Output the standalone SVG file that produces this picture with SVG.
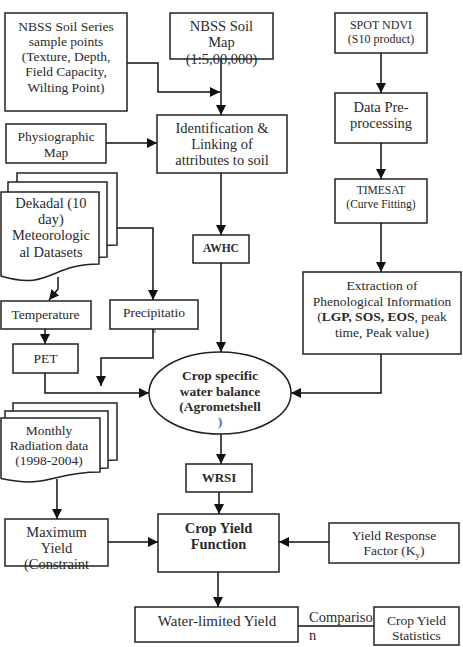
<svg xmlns="http://www.w3.org/2000/svg" width="463" height="647" viewBox="0 0 463 647">
<style>
.box{fill:#fff;stroke:#222;stroke-width:1.5}
.t{font-family:"Liberation Serif","Times New Roman",serif;fill:#2a2a2a;text-anchor:middle}
.b{font-weight:bold}
.conn{fill:none;stroke:#111;stroke-width:1.5;marker-end:url(#arr)}
.line{fill:none;stroke:#111;stroke-width:1.5}
</style>
<defs>
<marker id="arr" viewBox="0 0 10 10" refX="10" refY="5" markerWidth="10" markerHeight="10" markerUnits="userSpaceOnUse" orient="auto">
<path d="M0,0 L10,5 L0,10 Z" fill="#111"/>
</marker>
</defs>
<rect width="463" height="647" fill="#fff"/>

<g id="connectors">
<path class="conn" d="M127,63 H158 V92 H220"/>
<path class="conn" d="M221,59 V115"/>
<path class="conn" d="M106,143 H157"/>
<path class="conn" d="M221,173 V235"/>
<path class="conn" d="M221,263 V352"/>
<path class="conn" d="M117,228 H153 V300"/>
<path class="conn" d="M58,277 V289 L49,300"/>
<path class="conn" d="M45,329 V344"/>
<path class="conn" d="M45,373 V393 H149"/>
<path class="conn" d="M153,329 V358 H101 V386"/>
<path class="conn" d="M381,53 V93"/>
<path class="conn" d="M381,143 V179"/>
<path class="conn" d="M381,223 V272"/>
<path class="conn" d="M381,354 V393 H291"/>
<path class="conn" d="M221,434 V464"/>
<path class="conn" d="M219,492 V514"/>
<path class="conn" d="M57,479 V519"/>
<path class="conn" d="M108,542 H158"/>
<path class="conn" d="M329,542 H279"/>
<path class="conn" d="M218,572 V607"/>
<path class="line" d="M298,626 H374"/>
</g>

<g id="nbss-series">
<rect class="box" x="5" y="13" width="122" height="98"/>
<text class="t" font-size="13.5"><tspan x="66" y="31">NBSS Soil Series</tspan><tspan x="66" y="46">sample points</tspan><tspan x="66" y="61">(Texture, Depth,</tspan><tspan x="66" y="76">Field Capacity,</tspan><tspan x="66" y="91.5">Wilting Point)</tspan></text>
</g>

<g id="nbss-map">
<rect class="box" x="170" y="13" width="103" height="46"/>
<text class="t" font-size="14.5"><tspan x="221.5" y="31">NBSS Soil</tspan><tspan x="221.5" y="47">Map</tspan><tspan x="221.5" y="64">(1:5,00,000)</tspan></text>
</g>

<g id="identification">
<rect class="box" x="157" y="115" width="130" height="58"/>
<text class="t" font-size="14.5"><tspan x="222" y="133">Identification &amp;</tspan><tspan x="222" y="149">Linking of</tspan><tspan x="222" y="165">attributes to soil</tspan></text>
</g>

<g id="physiographic">
<rect class="box" x="6" y="124" width="100" height="39"/>
<text class="t" font-size="13.5"><tspan x="56" y="141">Physiographic</tspan><tspan x="56" y="157">Map</tspan></text>
</g>

<g id="dekadal">
<path class="box" d="M17,173 H117 V245 C67,245 67,272 17,257 Z"/>
<path class="box" d="M8,182 H107 V257 C57.5,257 57.5,285.5 8,269 Z"/>
<path class="box" d="M1,192 H99 V264 C50,264 50,291 1,276 Z"/>
<text class="t" font-size="14.5"><tspan x="51" y="208">Dekadal (10</tspan><tspan x="51" y="224">day)</tspan><tspan x="51" y="240">Meteorologic</tspan><tspan x="51" y="257">al Datasets</tspan></text>
</g>

<g id="temperature">
<rect class="box" x="1" y="301" width="90" height="28"/>
<text class="t" font-size="13.5" x="45.5" y="319">Temperature</text>
</g>

<g id="pet">
<rect class="box" x="13" y="344" width="65" height="29"/>
<text class="t" font-size="13.5" x="45.5" y="363">PET</text>
</g>

<g id="precipitation">
<rect class="box" x="110" y="300" width="88" height="29"/>
<text class="t" font-size="13.5" x="154" y="317">Precipitatio</text>
<text class="t" font-size="7" x="154" y="333">n</text>
</g>

<g id="awhc">
<rect class="box" x="193" y="235" width="56" height="28"/>
<text class="t b" font-size="11.5" x="221" y="252">AWHC</text>
</g>

<g id="water-balance">
<ellipse class="box" cx="220" cy="393" rx="71" ry="41"/>
<text class="t b" font-size="13.5"><tspan x="220" y="380">Crop specific</tspan><tspan x="220" y="395.5">water balance</tspan><tspan x="220" y="411">(Agrometshell</tspan></text>
<text class="t b" font-size="13.5" x="220" y="426" style="fill:#3b6fd6">)</text>
</g>

<g id="spot-ndvi">
<rect class="box" x="335" y="13" width="92" height="40"/>
<text class="t" font-size="12"><tspan x="381" y="28.5">SPOT NDVI</tspan><tspan x="381" y="42.5">(S10 product)</tspan></text>
</g>

<g id="preprocessing">
<rect class="box" x="335" y="93" width="92" height="50"/>
<text class="t" font-size="14.5"><tspan x="381" y="112">Data Pre-</tspan><tspan x="381" y="128">processing</tspan></text>
</g>

<g id="timesat">
<rect class="box" x="335" y="179" width="92" height="44"/>
<text class="t" font-size="11.5"><tspan x="381" y="194">TIMESAT</tspan><tspan x="381" y="208">(Curve Fitting)</tspan></text>
</g>

<g id="extraction">
<rect class="box" x="303" y="272" width="158" height="82"/>
<text class="t" font-size="13.5"><tspan x="382" y="290">Extraction of</tspan><tspan x="382" y="305.5">Phenological Information</tspan><tspan x="382" y="321">(<tspan class="b">LGP, SOS, EOS</tspan>, peak</tspan><tspan x="382" y="336.5">time, Peak value)</tspan></text>
</g>

<g id="wrsi">
<rect class="box" x="186" y="464" width="66" height="28"/>
<text class="t b" font-size="13" x="219" y="482">WRSI</text>
</g>

<g id="crop-yield-function">
<rect class="box" x="158" y="514" width="121" height="58"/>
<text class="t b" font-size="14.5"><tspan x="218.5" y="533">Crop Yield</tspan><tspan x="218.5" y="549">Function</tspan></text>
</g>

<g id="monthly-radiation">
<path class="box" d="M13,403 H117 V460 C65,460 65,481.6 13,469 Z"/>
<path class="box" d="M5,411 H108 V468 C56.5,468 56.5,489.6 5,477 Z"/>
<path class="box" d="M1,418 H100 V472 C50.5,472 50.5,489 1,478.5 Z"/>
<text class="t" font-size="13.5"><tspan x="49" y="435">Monthly</tspan><tspan x="49" y="450">Radiation data</tspan><tspan x="49" y="465">(1998-2004)</tspan></text>
</g>

<g id="maximum-yield">
<rect class="box" x="5" y="519" width="103" height="47"/>
<text class="t" font-size="14.5"><tspan x="56.5" y="537">Maximum</tspan><tspan x="56.5" y="553">Yield</tspan><tspan x="56.5" y="569">(Constraint</tspan></text>
</g>

<g id="yield-response">
<rect class="box" x="329" y="523" width="130" height="40"/>
<text class="t" font-size="13.5"><tspan x="394" y="539.5">Yield Response</tspan><tspan x="394" y="555">Factor (K<tspan font-size="9" dy="3">y</tspan><tspan dy="-3">)</tspan></tspan></text>
</g>

<g id="water-limited-yield">
<rect class="box" x="135" y="607" width="163" height="35"/>
<text class="t" font-size="15" x="217" y="626">Water-limited Yield</text>
</g>

<g id="comparison-label">
<text class="t" font-size="14.5" style="text-anchor:start"><tspan x="309" y="622">Compariso</tspan><tspan x="309" y="640">n</tspan></text>
</g>

<g id="crop-yield-statistics">
<rect class="box" x="374" y="607" width="85" height="38"/>
<text class="t" font-size="13.5"><tspan x="416.5" y="625">Crop Yield</tspan><tspan x="416.5" y="640">Statistics</tspan></text>
</g>
</svg>
